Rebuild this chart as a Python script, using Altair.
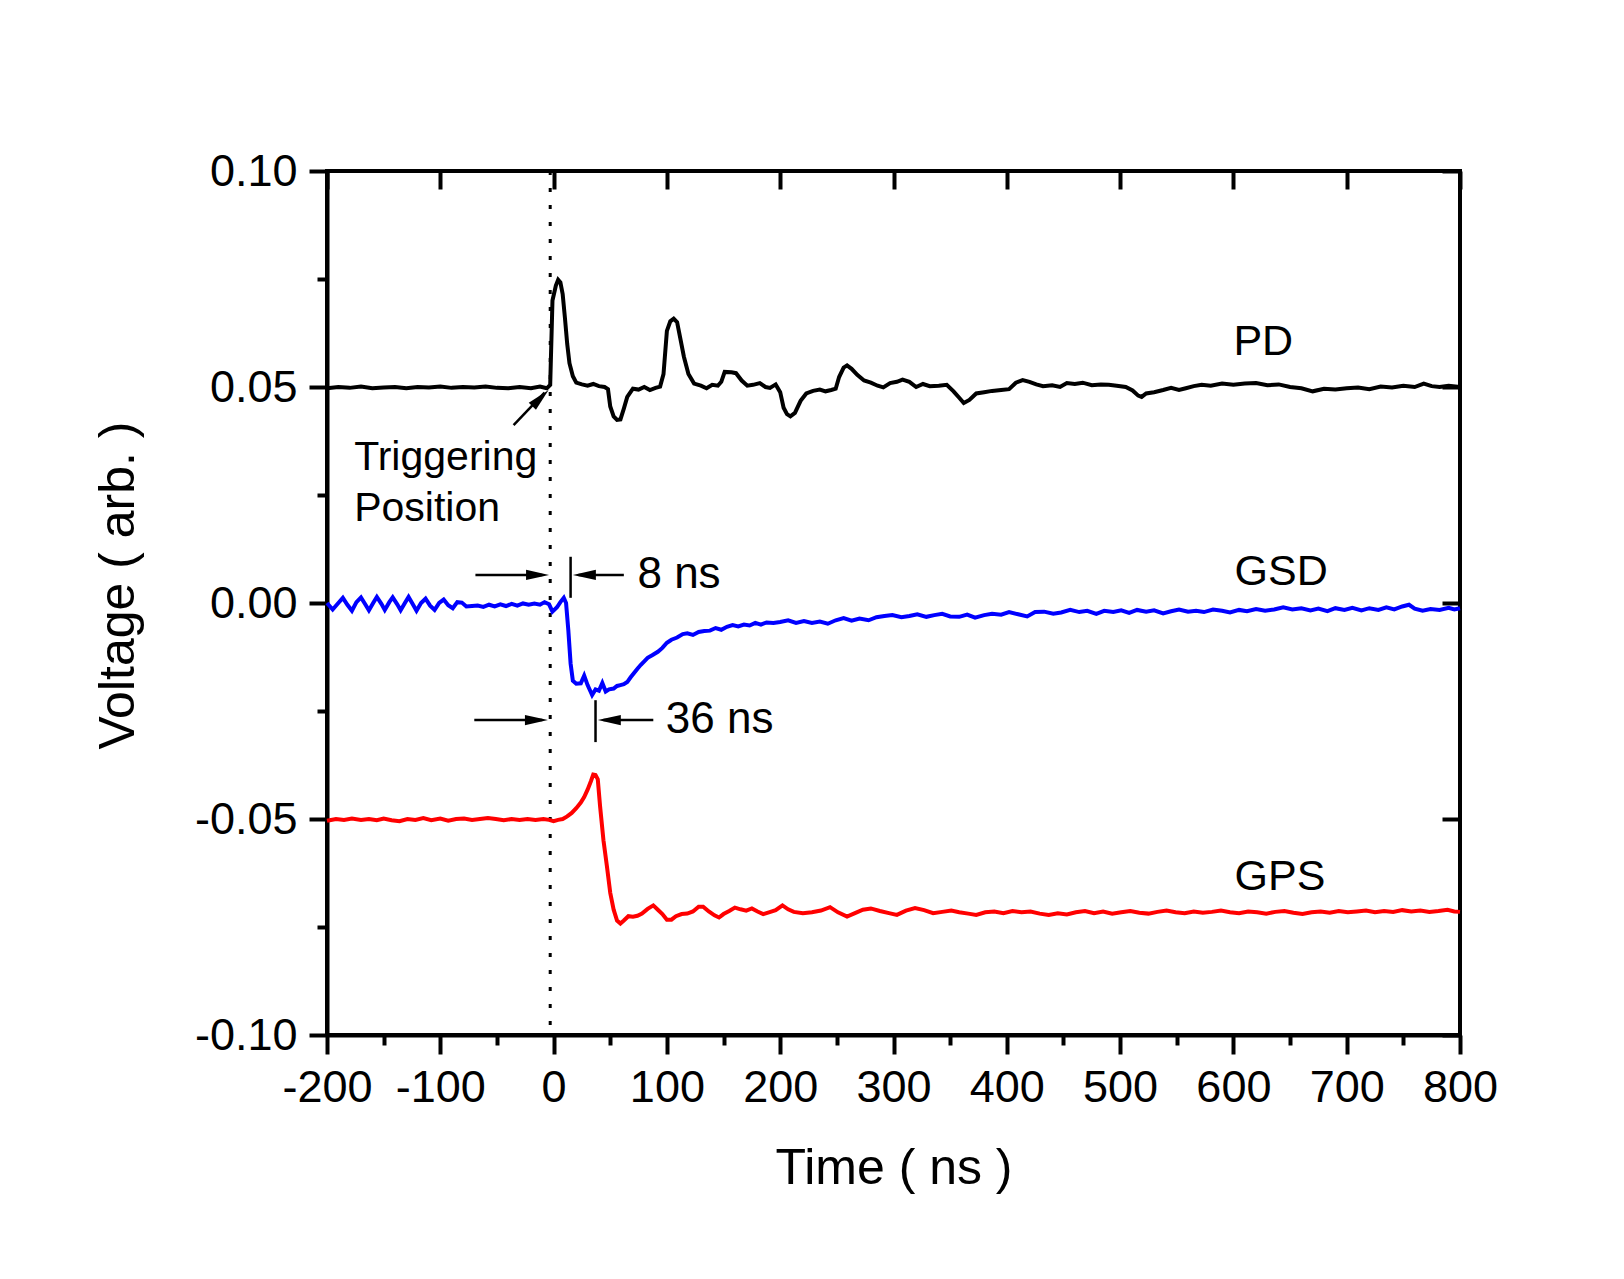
import altair as alt
import pandas as pd

# ---------------- data ----------------
pd_t = [-200, -190, -180, -170, -160, -150, -140, -130, -120, -110, -100, -90, -80, -70, -60, -50, -40, -30, -20, -12, -6,
        -3, -1, 2, 4, 6, 8, 10, 12, 14, 17, 20, 25, 30, 35, 40, 45, 48, 50, 53, 56, 59, 62, 65, 70, 75, 80, 85, 90, 94,
        97, 100, 103, 106, 109, 112, 115, 119, 124, 130, 135, 140, 145, 148, 151, 157, 161, 166, 171, 176, 182, 187, 191,
        196, 200, 203, 206, 209, 213, 218, 223, 229, 235, 240, 245, 249, 252, 256, 259, 263, 268, 274, 280, 286, 291, 297,
        303, 308, 314, 320, 326, 332, 340, 347, 353, 358, 362, 367, 373, 380, 387, 395, 402, 408, 414, 420, 426, 432, 440,
        447, 453, 460, 467, 475, 483, 490, 497, 505, 511, 516, 519, 523, 530, 538, 545, 552, 558, 565, 572, 580, 590, 600,
        610, 620, 630, 640, 650, 660, 670, 680, 690, 700, 710, 720, 730, 740, 750, 760, 768, 775, 782, 790, 800]
pd_v = [0.0497, 0.0500, 0.0498, 0.0501, 0.0497, 0.0499, 0.0500, 0.0497, 0.0500, 0.0499, 0.0501, 0.0498, 0.0500, 0.0499,
        0.0501, 0.0498, 0.0497, 0.0500, 0.0497, 0.0501, 0.0497,
        0.0505, 0.0700, 0.0735, 0.0748, 0.0742, 0.0715, 0.0660, 0.0600, 0.0555, 0.0525, 0.0510, 0.0506, 0.0503, 0.0507,
        0.0502, 0.0500, 0.0495, 0.0455, 0.0432, 0.0424, 0.0425, 0.0450, 0.0477, 0.0496, 0.0494, 0.0500, 0.0493, 0.0498,
        0.0501, 0.0530, 0.0630, 0.0652, 0.0658, 0.0650, 0.0610, 0.0570, 0.0530, 0.0508, 0.0503, 0.0497, 0.0505, 0.0503,
        0.0512, 0.0535, 0.0534, 0.0532, 0.0515, 0.0503, 0.0505, 0.0509, 0.0500, 0.0498, 0.0506, 0.0488, 0.0452, 0.0437,
        0.0432, 0.0440, 0.0468, 0.0485, 0.0491, 0.0494, 0.0490, 0.0493, 0.0496, 0.0523, 0.0545, 0.0550, 0.0542, 0.0528,
        0.0515, 0.0510, 0.0503, 0.0499, 0.0509, 0.0512, 0.0517, 0.0512, 0.0500, 0.0507, 0.0502, 0.0503, 0.0505, 0.0490,
        0.0475, 0.0463, 0.0470, 0.0485, 0.0488, 0.0491, 0.0493, 0.0495, 0.0510, 0.0516, 0.0512, 0.0506, 0.0502, 0.0504,
        0.0500, 0.0509, 0.0507, 0.0510, 0.0504, 0.0506, 0.0505, 0.0503, 0.0500, 0.0492, 0.0480, 0.0477, 0.0485, 0.0488,
        0.0493, 0.0498, 0.0493, 0.0497, 0.0502, 0.0505, 0.0503, 0.0508, 0.0505, 0.0508, 0.0509, 0.0504, 0.0506, 0.0500,
        0.0497, 0.0490, 0.0496, 0.0494, 0.0497, 0.0499, 0.0495, 0.0501, 0.0499, 0.0503, 0.0500, 0.0508, 0.0502, 0.0500,
        0.0503, 0.0500]

gsd_t = [-200, -195, -190, -186, -182, -178, -174, -170, -166, -163, -159, -156, -152, -149, -145, -142, -138, -135, -131,
         -128, -124, -121, -117, -113, -109, -105, -101, -97, -93, -89, -85, -81, -77, -72, -67, -62, -57, -52, -47, -42,
         -37, -32, -27, -22, -17, -12, -8, -4, -1, 3, 6, 9, 11, 13, 15, 17, 20, 24, 27, 30, 34, 37, 40, 43, 46, 49, 53, 56,
         59, 62, 65, 68, 71, 74, 77, 80, 83, 87, 92, 96, 100, 104, 109, 114, 118, 123, 128, 133, 138, 143, 148, 153, 158,
         163, 168, 173, 178, 183, 188, 194, 200, 207, 214, 221, 228, 235, 242, 249, 256, 263, 270, 278, 285, 292, 299, 307,
         314, 321, 329, 336, 343, 350, 358, 365, 372, 380, 387, 395, 402, 410, 418, 425, 433, 441, 448, 456, 464, 471, 479,
         486, 494, 501, 508, 515, 523, 530, 538, 545, 552, 560, 567, 574, 582, 590, 597, 605, 612, 620, 628, 636, 644, 652,
         660, 668, 675, 683, 690, 698, 705, 713, 720, 728, 735, 742, 749, 755, 760, 767, 774, 782, 790, 795, 800]
gsd_v = [0.0000, -0.0015, 0.0000, 0.0012, -0.0004, -0.0018, 0.0002, 0.0013, -0.0004, -0.0017, 0.0001, 0.0014, -0.0002,
         -0.0016, 0.0002, 0.0013, -0.0003, -0.0017, 0.0001, 0.0014, -0.0004, -0.0018, 0.0000, 0.0010, -0.0006, -0.0016,
         0.0000, 0.0008, -0.0005, -0.0012, 0.0002, 0.0001, -0.0008, -0.0007, -0.0006, -0.0009, -0.0004, -0.0008, -0.0003,
         -0.0007, -0.0002, -0.0006, -0.0001, -0.0004, -0.0001, -0.0004, 0.0002, -0.0003, -0.0020, -0.0010, 0.0002, 0.0012,
         0.0000, -0.0063, -0.0140, -0.0180, -0.0187, -0.0186, -0.0168, -0.0190, -0.0213, -0.0200, -0.0203, -0.0185,
         -0.0205, -0.0200, -0.0198, -0.0192, -0.0190, -0.0188, -0.0183, -0.0172, -0.0162, -0.0152, -0.0143, -0.0135,
         -0.0127, -0.0121, -0.0113, -0.0104, -0.0092, -0.0085, -0.0080, -0.0072, -0.0070, -0.0074, -0.0067, -0.0065,
         -0.0064, -0.0058, -0.0062, -0.0055, -0.0051, -0.0054, -0.0050, -0.0052, -0.0046, -0.0050, -0.0045, -0.0046,
         -0.0044, -0.0040, -0.0046, -0.0042, -0.0046, -0.0043, -0.0048, -0.0040, -0.0035, -0.0041, -0.0036, -0.0040,
         -0.0033, -0.0030, -0.0028, -0.0033, -0.0030, -0.0026, -0.0032, -0.0028, -0.0025, -0.0031, -0.0032, -0.0027,
         -0.0034, -0.0028, -0.0025, -0.0027, -0.0021, -0.0026, -0.0031, -0.0021, -0.0020, -0.0025, -0.0022, -0.0016,
         -0.0021, -0.0018, -0.0025, -0.0018, -0.0021, -0.0017, -0.0023, -0.0016, -0.0020, -0.0017, -0.0024, -0.0019,
         -0.0015, -0.0020, -0.0018, -0.0021, -0.0015, -0.0018, -0.0022, -0.0016, -0.0019, -0.0014, -0.0018, -0.0015,
         -0.0010, -0.0015, -0.0012, -0.0017, -0.0013, -0.0019, -0.0012, -0.0016, -0.0011, -0.0017, -0.0012, -0.0016,
         -0.0010, -0.0015, -0.0008, -0.0004, -0.0013, -0.0018, -0.0014, -0.0016, -0.0011, -0.0015, -0.0012]

gps_t = [-200, -192, -185, -178, -170, -163, -156, -150, -143, -136, -129, -122, -115, -108, -100, -93, -86, -79, -72, -65,
         -58, -51, -44, -37, -30, -23, -16, -9, -4, 0, 4, 8, 12, 16, 20, 24, 27, 30, 33, 35, 37, 39, 41, 44, 47, 50, 53, 56,
         59, 62, 66, 70, 74, 78, 83, 88, 92, 96, 100, 104, 108, 113, 118, 123, 128, 132, 137, 142, 146, 150, 155, 160, 165,
         170, 175, 180, 185, 190, 196, 202, 207, 212, 220, 228, 236, 244, 251, 259, 266, 273, 280, 288, 296, 303, 311, 319,
         327, 335, 343, 351, 358, 366, 373, 381, 389, 397, 405, 413, 421, 429, 437, 445, 453, 461, 469, 477, 485, 493, 501,
         509, 517, 525, 533, 541, 549, 557, 565, 573, 581, 589, 597, 605, 613, 621, 629, 637, 645, 653, 661, 669, 677, 685,
         693, 701, 709, 717, 725, 733, 741, 749, 757, 765, 773, 781, 789, 795, 800]
gps_v = [-0.0504, -0.0500, -0.0502, -0.0499, -0.0502, -0.0500, -0.0503, -0.0499, -0.0503, -0.0505, -0.0500, -0.0502,
         -0.0498, -0.0503, -0.0499, -0.0504, -0.0500, -0.0499, -0.0502, -0.0500, -0.0498, -0.0500, -0.0503, -0.0500,
         -0.0502, -0.0500, -0.0502, -0.0500, -0.0502, -0.0505, -0.0502, -0.0500, -0.0494, -0.0486, -0.0475, -0.0462,
         -0.0449, -0.0432, -0.0412, -0.0397, -0.0398, -0.0408, -0.0470, -0.0549, -0.0608, -0.0671, -0.0710, -0.0735,
         -0.0742, -0.0735, -0.0725, -0.0726, -0.0724, -0.0719, -0.0708, -0.0700, -0.0710, -0.0720, -0.0733, -0.0733,
         -0.0725, -0.0720, -0.0719, -0.0714, -0.0703, -0.0703, -0.0714, -0.0723, -0.0728, -0.0720, -0.0713, -0.0705,
         -0.0709, -0.0712, -0.0707, -0.0714, -0.0720, -0.0716, -0.0711, -0.0700, -0.0709, -0.0715, -0.0718, -0.0716,
         -0.0712, -0.0704, -0.0716, -0.0726, -0.0718, -0.0710, -0.0707, -0.0713, -0.0718, -0.0722, -0.0712, -0.0706,
         -0.0711, -0.0718, -0.0715, -0.0712, -0.0716, -0.0719, -0.0722, -0.0716, -0.0714, -0.0718, -0.0713, -0.0716,
         -0.0714, -0.0719, -0.0722, -0.0718, -0.0721, -0.0716, -0.0713, -0.0718, -0.0714, -0.0719, -0.0716, -0.0713,
         -0.0717, -0.0719, -0.0715, -0.0712, -0.0716, -0.0718, -0.0714, -0.0717, -0.0715, -0.0712, -0.0716, -0.0718,
         -0.0714, -0.0716, -0.0719, -0.0715, -0.0713, -0.0717, -0.0720, -0.0716, -0.0714, -0.0717, -0.0713, -0.0716,
         -0.0714, -0.0712, -0.0716, -0.0713, -0.0715, -0.0711, -0.0714, -0.0712, -0.0715, -0.0713, -0.0710, -0.0714,
         -0.0715]

series_names = ["PD", "GSD", "GPS"]
series_colors = ["#000000", "#0000ff", "#ff0000"]

x_major = [-200, -100, 0, 100, 200, 300, 400, 500, 600, 700, 800]
x_minor = [-150, -50, 50, 150, 250, 350, 450, 550, 650, 750]
y_major = [-0.10, -0.05, 0.0, 0.05, 0.10]
y_minor = [-0.075, -0.025, 0.025, 0.075]

trigger_t = [-3]

# annotation segments (data units): arrows and delimiter bars
seg_x = [-69, 15, 62, -70, 37, 88, -35.3]
seg_x2 = [-10, 15, 22, -10, 37, 44, -8.0]
seg_y = [0.0065, 0.0012, 0.0065, -0.0271, -0.0322, -0.0271, 0.0412]
seg_y2 = [0.0065, 0.0107, 0.0065, -0.0271, -0.0225, -0.0271, 0.0487]

head_x = [-4, 17, -5, 39, -4.4]
head_y = [0.0065, 0.0065, -0.0271, -0.0271, 0.0493]
head_angle = [0, 180, 0, 180, 315]

label_text = ["PD", "GSD", "GPS", "Triggering", "Position", "8 ns", "36 ns"]
label_x = [600, 601, 601, -176, -176, 74, 99]
label_y = [0.0574, 0.0042, -0.0665, 0.0308, 0.0190, 0.0035, -0.0301]
label_size = [43, 43, 43, 41, 41, 44, 44]

# ---------------- chart ----------------
rows = []
for name, ts, vs in [("PD", pd_t, pd_v), ("GSD", gsd_t, gsd_v), ("GPS", gps_t, gps_v)]:
    for t, v in zip(ts, vs):
        rows.append({"series": name, "t": t, "v": v})
df = pd.DataFrame(rows)

FONT = "Liberation Sans, Arial, sans-serif"
xs = alt.Scale(domain=[-200, 800], nice=False, zero=False)
ys = alt.Scale(domain=[-0.1, 0.1], nice=False, zero=False)

xlab = "datum.value < 0 ? '-' + format(-datum.value, 'd') : format(datum.value, 'd')"
ylab = "datum.value < -0.0001 ? '-' + format(-datum.value, '.2f') : format(abs(datum.value), '.2f')"

common = dict(labelFlush=False, labelOverlap=False, labelBound=False, grid=False)

trig = alt.Chart(pd.DataFrame({"t": trigger_t})).mark_rule(
    color="black", strokeWidth=3, strokeDash=[4, 13]
).encode(
    x=alt.X("t:Q", scale=xs, axis=alt.Axis(orient="bottom", values=x_minor, labels=False, domain=False,
                                           tickSize=10, title=None, **common))
)

lines = alt.Chart(df).mark_line(strokeWidth=4).encode(
    x=alt.X("t:Q", scale=xs, axis=alt.Axis(orient="bottom", values=x_major, labelExpr=xlab, tickSize=19,
                                           labelPadding=11, title="Time ( ns )", titleY=108, **common)),
    y=alt.Y("v:Q", scale=ys, axis=alt.Axis(orient="left", values=y_major, labelExpr=ylab, tickSize=18,
                                           labelPadding=12, title="Voltage ( arb. )", titleX=-184, titleY=414,
                                           **common)),
    color=alt.Color("series:N", scale=alt.Scale(domain=series_names, range=series_colors), legend=None),
)

segs = alt.Chart(pd.DataFrame({"x": seg_x, "x2": seg_x2, "y": seg_y, "y2": seg_y2})).mark_rule(
    color="black", strokeWidth=2.5
).encode(
    x=alt.X("x:Q", scale=xs, axis=alt.Axis(orient="top", values=x_major, labels=False, domain=False,
                                           tickSize=18, offset=-18, title=None, **common)),
    x2="x2:Q",
    y=alt.Y("y:Q", scale=ys, axis=alt.Axis(orient="right", values=y_major, labels=False, domain=False,
                                           tickSize=18, offset=-18, title=None, **common)),
    y2="y2:Q",
)

heads = alt.Chart(pd.DataFrame({"x": head_x, "y": head_y, "a": head_angle})).mark_point(
    shape="M0,0 L-2,-0.44 L-2,0.44 Z", filled=True, size=529, color="black", opacity=1, strokeWidth=0
).encode(
    x=alt.X("x:Q", scale=xs, axis=None),
    y=alt.Y("y:Q", scale=ys, axis=alt.Axis(orient="left", values=y_minor, labels=False, domain=False,
                                           tickSize=10, title=None, **common)),
    angle=alt.Angle("a:Q", scale=None),
)

texts = alt.Chart(pd.DataFrame({"label": label_text, "x": label_x, "y": label_y, "fs": label_size})).mark_text(
    align="left", baseline="alphabetic", font=FONT, color="black"
).encode(
    x=alt.X("x:Q", scale=xs, axis=None),
    y=alt.Y("y:Q", scale=ys, axis=None),
    text="label:N",
    size=alt.Size("fs:Q", scale=None),
)

chart = alt.layer(trig, lines, segs, heads, texts).resolve_axis(
    x="independent", y="independent"
).properties(
    width=1133, height=864,
    autosize=alt.AutoSizeParams(type="none"),
    padding={"left": 319, "top": 163, "right": 140, "bottom": 220},
    background="white",
).configure_view(
    stroke="black", strokeWidth=4
).configure_axis(
    domainColor="black", domainWidth=4, tickColor="black", tickWidth=4,
    labelFont=FONT, labelFontSize=45, labelColor="black",
    titleFont=FONT, titleFontSize=50, titleFontWeight="normal", titleColor="black",
)

chart.save("out.html", embed_options={"renderer": "svg", "actions": False})
